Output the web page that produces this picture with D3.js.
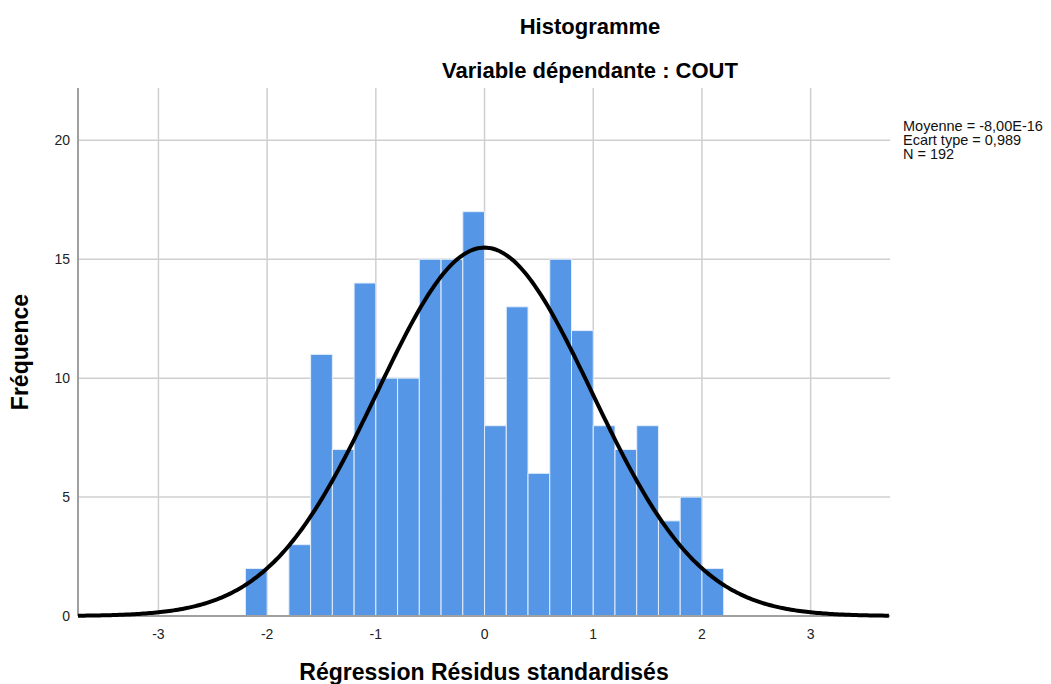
<!DOCTYPE html>
<html>
<head>
<meta charset="utf-8">
<script src="https://cdn.jsdelivr.net/npm/d3@7"></script>
<style>
  body { margin: 0; background: #fff; }
  svg text { font-family: "Liberation Sans", Arial, sans-serif; }
</style>
</head>
<body>
<div id="chart"></div>
<script>
// bins of width 0.2, starting at -2.2
var binStarts = [-2.2, -2.0, -1.8, -1.6, -1.4, -1.2, -1.0, -0.8, -0.6, -0.4, -0.2,
                 0.0, 0.2, 0.4, 0.6, 0.8, 1.0, 1.2, 1.4, 1.6, 1.8, 2.0];
var counts = [2, 0, 3, 11, 7, 14, 10, 10, 15, 15, 17,
              8, 13, 6, 15, 12, 8, 7, 8, 4, 5, 2];
var binWidth = 0.2;
var xTicks = [-3, -2, -1, 0, 1, 2, 3];
var yTicks = [0, 5, 10, 15, 20];
var mean = -8.0e-16, sd = 0.989, n = 192;
var statLines = ["Moyenne = -8,00E-16", "Ecart type = 0,989", "N = 192"];

var W = 1051, H = 684;
var margin = {top: 88, left: 78, right: 161, bottom: 68};

var svg = d3.select("#chart").append("svg")
  .attr("width", W)
  .attr("height", H);

var x = d3.scaleLinear().domain([-3.74, 3.73]).range([margin.left, W - margin.right]);
var y = d3.scaleLinear().domain([0, 22.2]).range([H - margin.bottom, margin.top]);

// grid
svg.append("g").selectAll("line").data(xTicks).enter().append("line")
  .attr("x1", function(d) { return x(d); })
  .attr("x2", function(d) { return x(d); })
  .attr("y1", y.range()[1])
  .attr("y2", y.range()[0])
  .attr("stroke", "#cfcfcf")
  .attr("stroke-width", 1.5);

svg.append("g").selectAll("line").data(yTicks.slice(1)).enter().append("line")
  .attr("x1", x.range()[0])
  .attr("x2", x.range()[1])
  .attr("y1", function(d) { return y(d); })
  .attr("y2", function(d) { return y(d); })
  .attr("stroke", "#cfcfcf")
  .attr("stroke-width", 1.5);

// bars
svg.append("g").selectAll("rect").data(binStarts).enter().append("rect")
  .attr("x", function(d) { return x(d); })
  .attr("width", function(d) { return x(d + binWidth) - x(d); })
  .attr("y", function(d, i) { return y(counts[i]); })
  .attr("height", function(d, i) { return y(0) - y(counts[i]); })
  .attr("fill", "#5596e6")
  .attr("stroke", "#e3eefb")
  .attr("stroke-width", 1);

// axes lines
svg.append("line")
  .attr("x1", x.range()[0]).attr("x2", x.range()[0])
  .attr("y1", y.range()[1]).attr("y2", y(0))
  .attr("stroke", "#a0a0a0").attr("stroke-width", 2);
svg.append("line")
  .attr("x1", x.range()[0]).attr("x2", x.range()[1])
  .attr("y1", y(0)).attr("y2", y(0))
  .attr("stroke", "#a0a0a0").attr("stroke-width", 2);

// normal curve
var curvePts = d3.range(x.domain()[0], x.domain()[1] + 0.001, 0.02).map(function(v) {
  var z = (v - mean) / sd;
  return [v, n * binWidth * Math.exp(-0.5 * z * z) / (sd * Math.sqrt(2 * Math.PI))];
});
svg.append("path")
  .datum(curvePts)
  .attr("fill", "none")
  .attr("stroke", "#000")
  .attr("stroke-width", 4)
  .attr("d", d3.line().x(function(d) { return x(d[0]); }).y(function(d) { return y(d[1]); }));

// tick labels
svg.append("g").selectAll("text").data(xTicks).enter().append("text")
  .attr("x", function(d) { return x(d); })
  .attr("y", y(0) + 23)
  .attr("text-anchor", "middle")
  .style("font-size", "14px")
  .style("fill", "#222")
  .text(function(d) { return d; });

svg.append("g").selectAll("text").data(yTicks).enter().append("text")
  .attr("x", x.range()[0] - 8)
  .attr("y", function(d) { return y(d) + 5; })
  .attr("text-anchor", "end")
  .style("font-size", "14px")
  .style("fill", "#222")
  .text(function(d) { return d; });

// titles
svg.append("text")
  .attr("x", 590).attr("y", 34)
  .attr("text-anchor", "middle")
  .style("font-size", "22px").style("font-weight", "bold")
  .text("Histogramme");
svg.append("text")
  .attr("x", 590).attr("y", 78)
  .attr("text-anchor", "middle")
  .style("font-size", "22px").style("font-weight", "bold")
  .text("Variable dépendante : COUT");

svg.append("text")
  .attr("x", 484).attr("y", 680)
  .attr("text-anchor", "middle")
  .style("font-size", "23px").style("font-weight", "bold")
  .text("Régression Résidus standardisés");

svg.append("text")
  .attr("transform", "translate(28,352) rotate(-90)")
  .attr("text-anchor", "middle")
  .style("font-size", "23px").style("font-weight", "bold")
  .text("Fréquence");

// stats legend
svg.append("g").selectAll("text").data(statLines).enter().append("text")
  .attr("x", 903)
  .attr("y", function(d, i) { return 131 + i * 14; })
  .style("font-size", "14.5px")
  .style("fill", "#111")
  .text(function(d) { return d; });
</script>
</body>
</html>
